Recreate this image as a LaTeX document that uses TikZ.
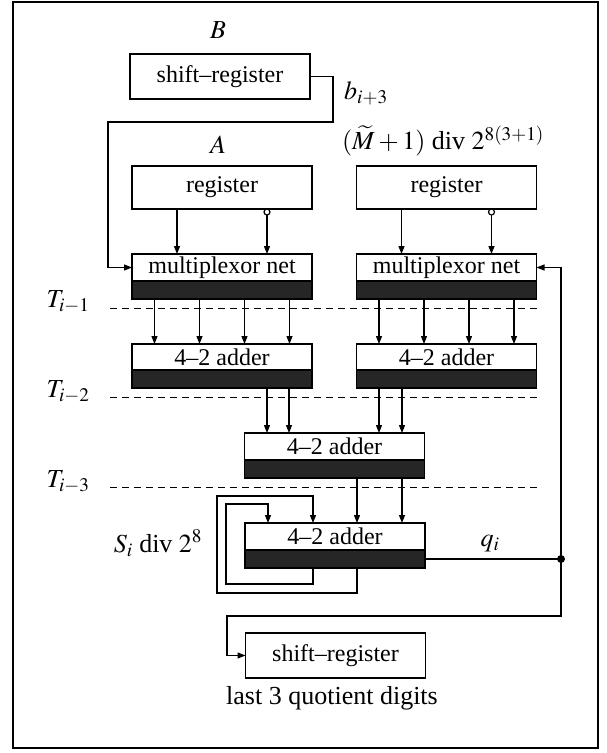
\documentclass[tikz,border=0pt]{standalone}
\usepackage{mathptmx}
\usepackage{fontspec}
\setmainfont{Liberation Serif}
\usetikzlibrary{arrows.meta,positioning}

\begin{document}
\begin{tikzpicture}[x=1pt,y=-1pt,font=\fontsize{24}{28}\selectfont,
  unit/.style={draw,line width=1.2pt,fill=white,minimum width=180pt,inner sep=0pt,outer sep=0pt},
  shadebar/.style={draw,line width=1.2pt,fill=black!85,minimum width=180pt,minimum height=18pt,inner sep=0pt,outer sep=0pt},
  lab/.style={inner sep=1pt,font=\fontsize{26}{30}\selectfont},
  sig/.style={line width=1.2pt,-{Triangle[length=8pt,width=6pt]}},
  wire/.style={line width=1.2pt},
  tline/.style={line width=1pt,dash pattern=on 7pt off 5pt}]
\useasboundingbox (0,0) rectangle (606,753);
\draw[line width=1.5pt] (13,2) rectangle (598,748);
% operands
\node[lab] (labB) at (218,30) {$B$};
\node[unit,minimum height=45pt] (sregB) at (220,76.5) {shift--register};
\node[lab] (labA) at (218,145) {$A$};
\node[unit,minimum height=43pt] (regA) at (222,187.5) {register};
\node[lab] (labM) at (443,141) {$(\widetilde{M}+1)$ div $2^{8(3+1)}$};
\node[unit,minimum height=43pt] (regM) at (446.5,187.5) {register};
% multiplexor nets
\node[unit,minimum height=27pt] (muxA) at (222,267.5) {multiplexor net};
\node[shadebar,anchor=north] (muxAd) at (muxA.south) {};
\node[unit,minimum height=27pt] (muxM) at (446.5,267.5) {multiplexor net};
\node[shadebar,anchor=north] (muxMd) at (muxM.south) {};
% adder tree
\node[unit,minimum height=26pt] (addA) at (222,357) {4--2 adder};
\node[shadebar,anchor=north] (addAd) at (addA.south) {};
\node[unit,minimum height=26pt] (addM) at (446.5,357) {4--2 adder};
\node[shadebar,anchor=north] (addMd) at (addM.south) {};
\node[unit,minimum height=27pt] (addC) at (334.5,446.5) {4--2 adder};
\node[shadebar,anchor=north] (addCd) at (addC.south) {};
\node[unit,minimum height=27pt] (addS) at (335,536.5) {4--2 adder};
\node[shadebar,anchor=north] (addSd) at (addS.south) {};
% quotient digits
\node[unit,minimum height=45pt] (sregQ) at (335.5,655.5) {shift--register};
\node[lab] (labQ) at (332,698) {last 3 quotient digits};
% time steps
\node[lab] (T1) at (68,302) {$T_{i-1}$};
\draw[tline] (110,308) -- (537,308);
\node[lab] (T2) at (68,392) {$T_{i-2}$};
\draw[tline] (110,397) -- (537,397);
\node[lab] (T3) at (68,482) {$T_{i-3}$};
\draw[tline] (110,487) -- (537,487);
% b digit into left mux
\draw[sig] (sregB.east) -| (333,122) -| (108,250) |- (muxA.west);
\node[lab,anchor=west] (labb) at (343,93) {$b_{i+3}$};
% registers into muxes
\draw[sig] ([xshift=-45pt]regA.south) -- ([xshift=-45pt]muxA.north);
\draw[wire] ([xshift=45pt,yshift=-3pt]regA.south) circle (3pt);
\draw[sig] ([xshift=45pt,yshift=-6pt]regA.south) -- ([xshift=45pt]muxA.north);
\draw[sig] ([xshift=-45pt]regM.south) -- ([xshift=-45pt]muxM.north);
\draw[wire] ([xshift=45pt,yshift=-3pt]regM.south) circle (3pt);
\draw[sig] ([xshift=45pt,yshift=-6pt]regM.south) -- ([xshift=45pt]muxM.north);
% muxes into first adders
\draw[sig] ([xshift=-67.5pt]muxAd.south) -- ([xshift=-67.5pt]addA.north);
\draw[sig] ([xshift=-22.5pt]muxAd.south) -- ([xshift=-22.5pt]addA.north);
\draw[sig] ([xshift=22.5pt]muxAd.south) -- ([xshift=22.5pt]addA.north);
\draw[sig] ([xshift=67.5pt]muxAd.south) -- ([xshift=67.5pt]addA.north);
\draw[sig] ([xshift=-67.5pt]muxMd.south) -- ([xshift=-67.5pt]addM.north);
\draw[sig] ([xshift=-22.5pt]muxMd.south) -- ([xshift=-22.5pt]addM.north);
\draw[sig] ([xshift=22.5pt]muxMd.south) -- ([xshift=22.5pt]addM.north);
\draw[sig] ([xshift=67.5pt]muxMd.south) -- ([xshift=67.5pt]addM.north);
% into middle adder
\draw[sig] ([xshift=45pt]addAd.south) -- ([xshift=45pt]addAd.south |- addC.north);
\draw[sig] ([xshift=67pt]addAd.south) -- ([xshift=67pt]addAd.south |- addC.north);
\draw[sig] ([xshift=-67.5pt]addMd.south) -- ([xshift=-67.5pt]addMd.south |- addC.north);
\draw[sig] ([xshift=-44.5pt]addMd.south) -- ([xshift=-44.5pt]addMd.south |- addC.north);
% into last adder
\draw[sig] ([xshift=22.5pt]addCd.south) -- ([xshift=22.5pt]addCd.south |- addS.north);
\draw[sig] ([xshift=67.5pt]addCd.south) -- ([xshift=67.5pt]addCd.south |- addS.north);
% partial remainder fed back
\draw[sig] ([xshift=-22pt]addSd.south) -- ++(0,16) -| (226,504) -| ([xshift=-67pt]addS.north);
\draw[sig] ([xshift=22pt]addSd.south) -- ++(0,25) -| (217,496) -| ([xshift=-22pt]addS.north);
\node[lab] (labS) at (158,543) {$S_i$ div $2^8$};
% quotient digit out
\draw[wire] (addSd.east) -- (561,559) coordinate (qdot);
\fill (qdot) circle (4pt);
\node[lab] (labq) at (490,544) {$q_i$};
\draw[sig] (qdot) |- (muxM.east);
\draw[sig] (qdot) -- (561,616) -| (227,640) |- (sregQ.west);
\end{tikzpicture}
\end{document}
